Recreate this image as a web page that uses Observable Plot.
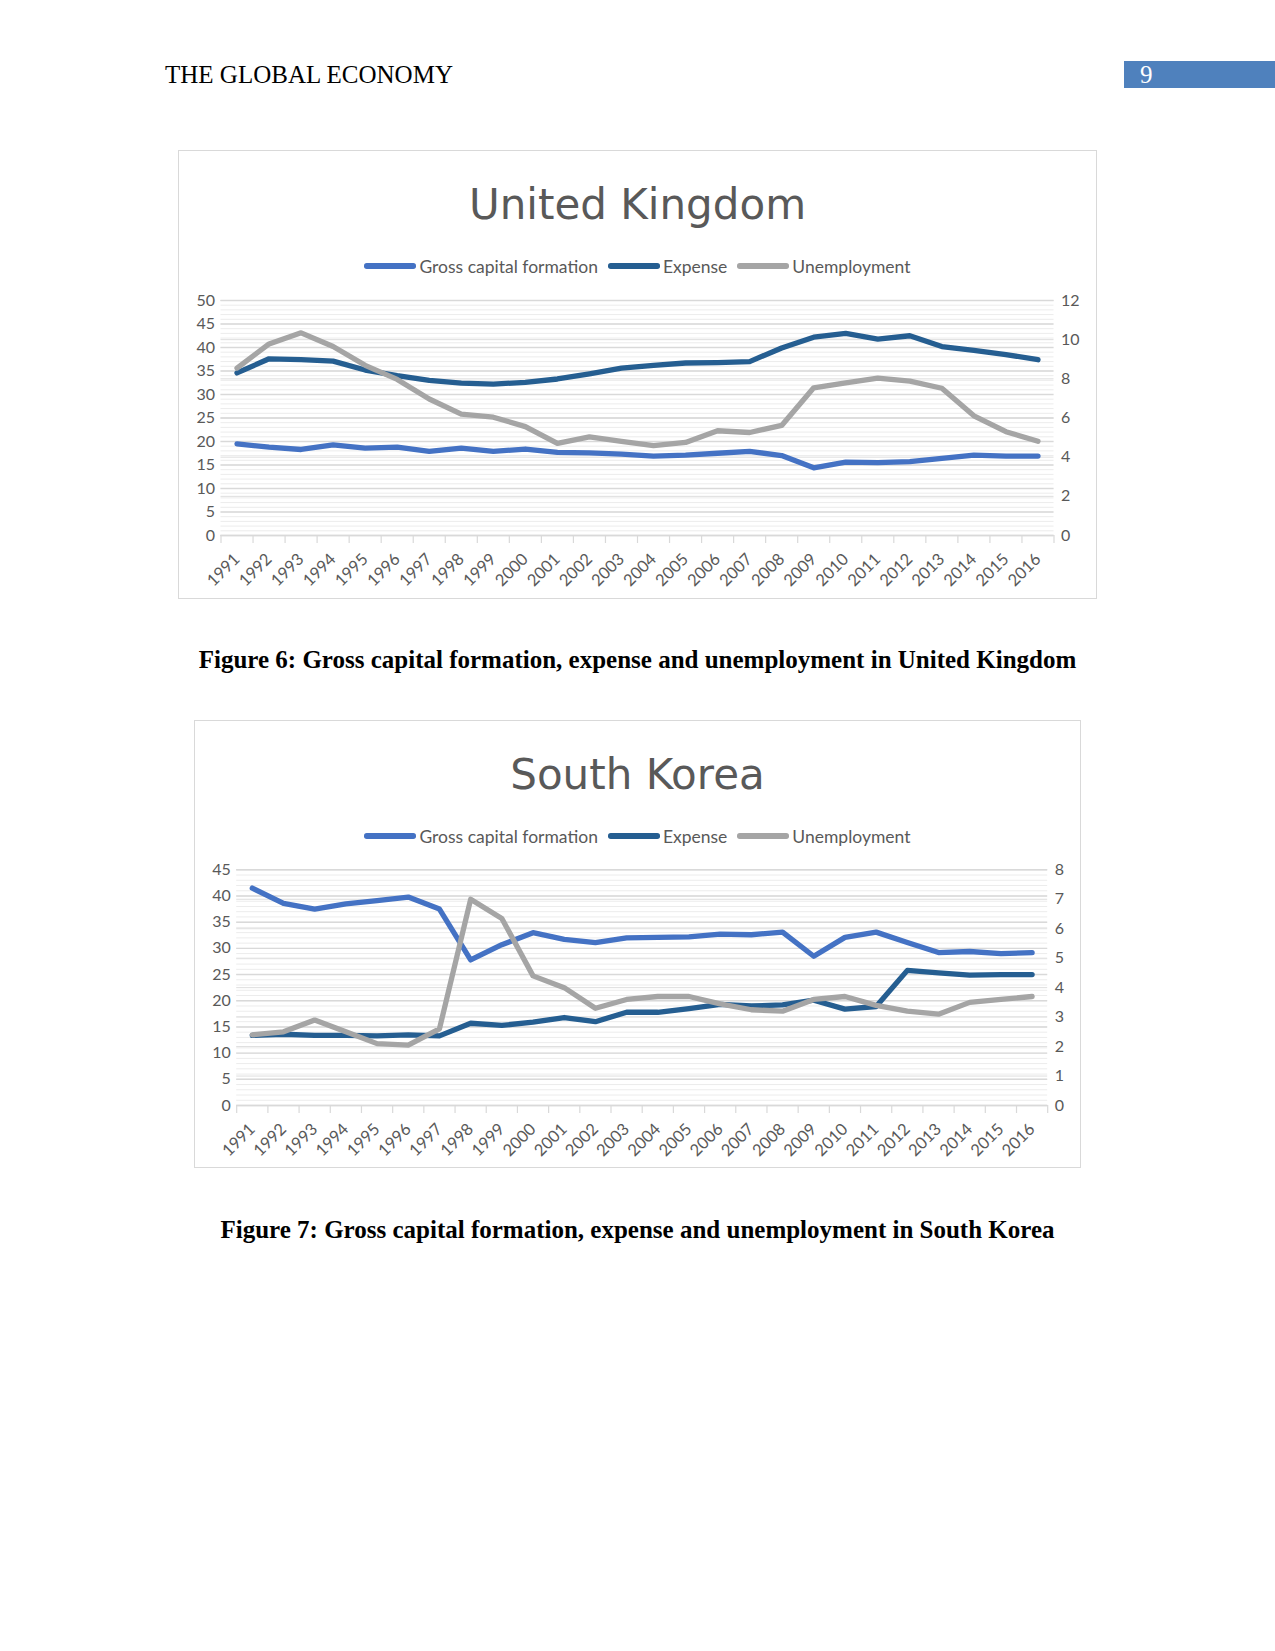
<!DOCTYPE html>
<html>
<head>
<meta charset="utf-8">
<script src="https://cdn.jsdelivr.net/npm/d3@7"></script>
<script src="https://cdn.jsdelivr.net/npm/@observablehq/plot@0.6"></script>
<style>
  html, body { margin: 0; padding: 0; background: #fff; }
  body { width: 1275px; height: 1651px; position: relative; overflow: hidden; }
  .hdr { position: absolute; left: 165px; top: 62px; font: 25px "Liberation Serif", serif; line-height: 25px; color: #000; }
  .pnum { position: absolute; left: 1124px; top: 61px; width: 151px; height: 27px; background: #4F81BD; }
  .pnum span { position: absolute; left: 16px; top: 0px; font: 25px "Liberation Serif", serif; line-height: 27px; color: #fff; }
  .frame { position: absolute; border: 1.5px solid #d9d9d9; box-sizing: border-box; background: #fff; }
  .title { position: absolute; left: 0; right: 0; text-align: center; font: 42px "DejaVu Sans", sans-serif; line-height: 42px; color: #595959; }
  .legend { position: absolute; left: 0; right: 0; height: 22px; display: flex; justify-content: center; align-items: center; font: 17.5px Lato, sans-serif; color: #595959; }
  .legend .item { display: flex; align-items: center; margin: 0 5px; }
  .legend .sw { display: inline-block; width: 52px; height: 5.5px; border-radius: 2.75px; margin-right: 3px; }
  .plot { position: absolute; }
  .cap { position: absolute; left: 0; width: 1275px; text-align: center; font: bold 25px "Liberation Serif", serif; line-height: 25px; color: #000; }
</style>
</head>
<body>
<div class="hdr">THE GLOBAL ECONOMY</div>
<div class="pnum"><span>9</span></div>

<div class="frame" id="uk" style="left:178px; top:150px; width:919px; height:449px;"></div>
<div class="cap" style="top:647px;">Figure 6: Gross capital formation, expense and unemployment in United Kingdom</div>

<div class="frame" id="kr" style="left:194px; top:720px; width:887px; height:448px;"></div>
<div class="cap" style="top:1217px;">Figure 7: Gross capital formation, expense and unemployment in South Korea</div>

<script>
// ---- data ----
const years = [1991,1992,1993,1994,1995,1996,1997,1998,1999,2000,2001,2002,2003,2004,2005,2006,2007,2008,2009,2010,2011,2012,2013,2014,2015,2016];
const seriesNames = ["Gross capital formation", "Expense", "Unemployment"];
const seriesColors = ["#4472C4", "#255E91", "#A5A5A5"];

// United Kingdom
const ukGcf = [19.5,18.8,18.3,19.3,18.6,18.8,17.9,18.6,17.9,18.4,17.7,17.6,17.3,16.9,17.1,17.5,17.9,17.0,14.4,15.6,15.5,15.7,16.4,17.1,16.9,16.9];
const ukExpense = [34.6,37.6,37.4,37.1,35.2,34.0,33.0,32.4,32.2,32.6,33.3,34.4,35.6,36.2,36.7,36.8,37.0,39.9,42.2,43.0,41.8,42.5,40.2,39.4,38.5,37.4];
const ukUnemployment = [8.55,9.78,10.35,9.65,8.69,7.97,6.97,6.2,6.04,5.56,4.7,5.04,4.81,4.59,4.75,5.35,5.26,5.62,7.54,7.79,8.04,7.88,7.52,6.11,5.3,4.81];
const ukLeftTicks = [0,5,10,15,20,25,30,35,40,45,50];
const ukRightTicks = [0,2,4,6,8,10,12];

// South Korea
const krGcf = [41.5,38.6,37.5,38.5,39.1,39.8,37.5,27.8,30.7,33.0,31.7,31.1,32.0,32.1,32.2,32.7,32.6,33.1,28.5,32.1,33.1,31.1,29.2,29.4,29.0,29.2];
const krExpense = [13.4,13.6,13.4,13.4,13.3,13.5,13.3,15.7,15.3,15.9,16.8,16.0,17.8,17.8,18.5,19.3,19.0,19.2,20.1,18.4,18.9,25.8,25.3,24.9,25.0,25.0];
const krUnemployment = [2.4,2.5,2.9,2.5,2.1,2.05,2.6,7.0,6.35,4.4,4.0,3.3,3.6,3.7,3.7,3.45,3.25,3.2,3.6,3.7,3.4,3.2,3.1,3.5,3.6,3.7];
const krLeftTicks = [0,5,10,15,20,25,30,35,40,45];
const krRightTicks = [0,1,2,3,4,5,6,7,8];

// ---- drawing ----
function buildChart(el, cfg) {
  const {title, gcf, expense, unemp, leftTicks, rightTicks, svgTop, width, height, ml, mr, mt, mb} = cfg;
  const leftMax = d3.max(leftTicks), rightMax = d3.max(rightTicks);
  const ratio = leftMax / rightMax;
  const rows = [];
  seriesNames.forEach((s, k) => {
    const vals = [gcf, expense, unemp][k];
    years.forEach((yr, i) => rows.push({year: yr, series: s, v: k === 2 ? vals[i] * ratio : vals[i]}));
  });
  const boundaries = d3.range(years[0] - 0.5, years[years.length - 1] + 1, 1);
  const minor = d3.range(0, leftMax + 0.001, 1);
  const rightAsLeft = rightTicks.map(t => t * ratio);

  const t = document.createElement("div");
  t.className = "title"; t.style.top = "32.5px"; t.textContent = title;
  el.appendChild(t);

  const lg = document.createElement("div");
  lg.className = "legend"; lg.style.top = "104px";
  seriesNames.forEach((s, k) => {
    const it = document.createElement("div"); it.className = "item";
    const sw = document.createElement("span"); sw.className = "sw"; sw.style.background = seriesColors[k];
    const tx = document.createElement("span"); tx.textContent = s;
    it.appendChild(sw); it.appendChild(tx); lg.appendChild(it);
  });
  el.appendChild(lg);

  const svg = Plot.plot({
    width, height,
    marginLeft: ml, marginRight: mr, marginTop: mt, marginBottom: mb,
    x: {type: "linear", domain: [years[0] - 0.5, years[years.length - 1] + 0.5]},
    y: {domain: [0, leftMax]},
    color: {domain: seriesNames, range: seriesColors},
    style: {fontFamily: "Lato, sans-serif", fontSize: "16px", color: "#595959", background: "transparent", overflow: "visible"},
    marks: [
      Plot.gridY({ticks: minor, stroke: "#ececec", strokeOpacity: 1, strokeWidth: 1}),
      Plot.gridY({ticks: rightAsLeft, stroke: "#dedede", strokeOpacity: 1, strokeWidth: 1}),
      Plot.gridY({ticks: leftTicks, stroke: "#d9d9d9", strokeOpacity: 1, strokeWidth: 1.4}),
      Plot.axisY({ticks: leftTicks, anchor: "left", tickSize: 0, tickPadding: 6, label: null, fontSize: 16}),
      Plot.axisY({ticks: rightAsLeft, anchor: "right", tickSize: 0, tickPadding: 7, label: null, fontSize: 16,
                  tickFormat: d => String(Math.round(d / ratio))}),
      Plot.ruleY([0], {stroke: "#d9d9d9", strokeWidth: 1.4}),
      Plot.axisX({ticks: boundaries, anchor: "bottom", tickSize: 8, tickFormat: () => "", stroke: "#d9d9d9", strokeWidth: 1.2, label: null}),
      Plot.axisX({ticks: years, anchor: "bottom", tickSize: 0, tickPadding: 21, tickRotate: -45, label: null, fontSize: 16.5,
                  tickFormat: d => String(d)}),
      Plot.line(rows, {x: "year", y: "v", z: "series", stroke: "series", strokeWidth: 5.3,
                       strokeLinecap: "round", strokeLinejoin: "round"})
    ]
  });
  svg.classList.add("plot");
  svg.style.left = "0px";
  svg.style.top = svgTop + "px";
  el.appendChild(svg);
}

buildChart(document.getElementById("uk"), {
  title: "United Kingdom", gcf: ukGcf, expense: ukExpense, unemp: ukUnemployment,
  leftTicks: ukLeftTicks, rightTicks: ukRightTicks,
  svgTop: 128.5, width: 916, height: 315, ml: 41.5, mr: 41.5, mt: 20, mb: 60
});
buildChart(document.getElementById("kr"), {
  title: "South Korea", gcf: krGcf, expense: krExpense, unemp: krUnemployment,
  leftTicks: krLeftTicks, rightTicks: krRightTicks,
  svgTop: 128.5, width: 884, height: 315, ml: 41.2, mr: 31.8, mt: 19.3, mb: 60
});
</script>
</body>
</html>
